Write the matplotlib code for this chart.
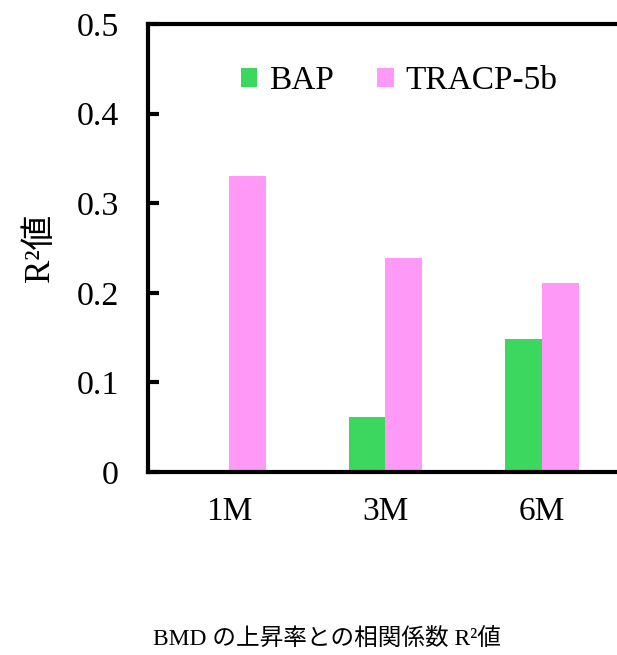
import matplotlib
matplotlib.use("Agg")
import matplotlib.pyplot as plt
import numpy as np

plt.rcParams['font.family'] = ['Liberation Serif', 'Noto Sans CJK JP']

months = ['1M', '3M', '6M']
bap = [0.0, 0.061, 0.148]
tracp = [0.330, 0.239, 0.211]
yticks = [0, 0.1, 0.2, 0.3, 0.4, 0.5]
ytick_labels = ['0', '0.1', '0.2', '0.3', '0.4', '0.5']

green = '#3BD75F'
pink = '#FF99F8'

W, H = 617, 655
fig = plt.figure(figsize=(W / 100, H / 100), dpi=100)
ax = fig.add_axes([148 / W, (H - 472) / H, 475 / W, (472 - 24) / H])

x = np.arange(len(months))
w = 0.235
ax.bar(x - w / 2, bap, w, color=green, label='BAP')
ax.bar(x + w / 2, tracp, w, color=pink, label='TRACP-5b')

ax.set_xlim(-0.516, 2.516)
ax.set_ylim(0, 0.5)
ax.set_yticks(yticks)
ax.set_yticklabels(ytick_labels, fontsize=24.5)
ax.set_xticks(x)
ax.set_xticklabels(months, fontsize=24)
ax.tick_params(axis='y', direction='in', length=8, width=3, pad=21)
ax.tick_params(axis='x', length=0, pad=18)
for s in ax.spines.values():
    s.set_linewidth(3)

ax.set_ylabel('R²値', fontsize=25, labelpad=14)

fig.legend(loc='center', bbox_to_anchor=(399 / W, 1 - 81 / H), ncol=2,
           frameon=False, fontsize=24, handlelength=0.5, handleheight=0.5,
           handletextpad=0.35, columnspacing=1.3)

fig.text(327 / W, 1 - 640 / H, 'BMD の上昇率との相関係数 R²値',
         ha='center', va='center', fontsize=17)

fig.savefig('out.png', dpi=100)
